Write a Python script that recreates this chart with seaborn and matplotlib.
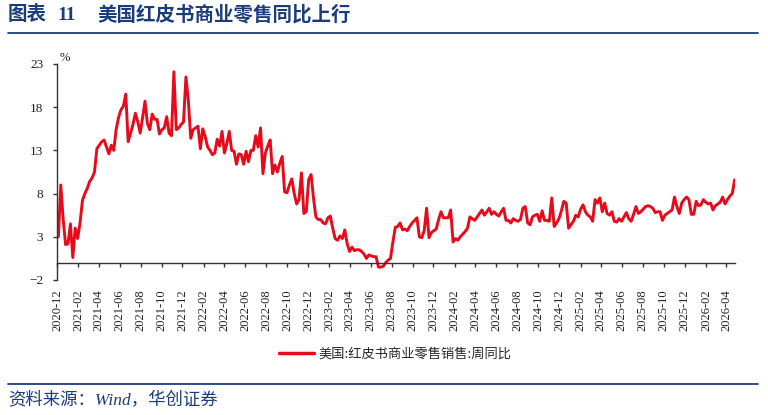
import pandas as pd
import matplotlib.pyplot as plt
import matplotlib.dates as mdates
from matplotlib.lines import Line2D
import seaborn as sns

# weekly YoY (%), last week ending 2026-04-25
values = [
    3.0, 9.0, 5.0, 2.1, 2.2, 4.5, 0.6, 4.0, 2.8, 4.6,
    7.2, 8.0, 8.6, 9.4, 9.8, 10.5, 13.2, 13.6, 14.0, 14.2,
    13.4, 12.6, 13.6, 13.0, 15.4, 16.8, 17.7, 18.1, 19.5, 14.0,
    15.0, 16.0, 17.3, 16.3, 15.0, 16.8, 18.7, 16.1, 15.4, 17.2,
    16.6, 16.6, 14.9, 15.4, 15.6, 16.9, 15.0, 14.7, 22.1, 15.4,
    15.6, 16.0, 16.3, 21.5, 18.8, 14.4, 15.4, 15.6, 15.8, 13.2,
    15.5, 14.6, 13.4, 13.0, 12.5, 12.7, 14.3, 13.5, 15.2, 12.7,
    13.8, 15.2, 13.0, 12.9, 11.4, 12.6, 12.5, 11.4, 12.9, 11.7,
    13.0, 13.0, 14.7, 13.4, 15.6, 10.3, 12.7, 13.5, 14.2, 10.3,
    11.3, 10.5, 11.5, 12.3, 8.2, 8.1, 9.0, 9.7, 8.0, 6.8,
    7.3, 10.4, 5.7, 5.9, 9.6, 10.2, 7.5, 5.3, 5.0, 5.0,
    4.6, 4.5, 5.2, 5.4, 4.0, 2.8, 2.6, 3.1, 2.8, 3.8,
    2.2, 1.3, 1.8, 1.4, 1.5, 1.5, 1.3, 1.0, 0.5, 0.9,
    0.8, 0.7, 0.7, -0.5, -0.5, -0.4, 0.0, 0.3, 0.5, 2.4,
    4.1, 4.2, 4.6, 3.8, 3.9, 3.7, 4.2, 4.6, 4.9, 5.2,
    3.0, 2.9, 3.7, 6.3, 2.9, 3.5, 3.7, 3.9, 5.0, 5.9,
    5.2, 5.2, 5.2, 6.1, 2.4, 2.8, 2.6, 3.0, 3.3, 3.6,
    4.0, 5.3, 5.1, 4.9, 5.3, 5.7, 6.1, 5.5, 5.9, 6.3,
    5.6, 5.9, 5.6, 5.4, 5.9, 6.3, 4.9, 4.9, 4.6, 5.1,
    4.9, 4.8, 5.0, 6.3, 6.5, 4.6, 4.4, 5.3, 5.5, 5.6,
    4.8, 6.0, 4.9, 4.9, 4.8, 7.5, 4.2, 4.6, 5.1, 6.0,
    7.1, 6.9, 4.0, 4.4, 4.8, 5.5, 5.3, 6.2, 6.7, 5.9,
    5.5, 5.3, 4.8, 7.3, 6.9, 7.5, 5.9, 6.9, 5.7, 5.5,
    5.9, 4.8, 4.7, 5.1, 4.8, 5.3, 5.8, 5.1, 4.8, 5.6,
    6.5, 5.7, 5.9, 6.2, 6.5, 6.6, 6.5, 6.3, 5.8, 5.9,
    5.9, 4.9, 5.5, 5.7, 5.9, 6.1, 7.6, 6.5, 5.7, 6.9,
    7.3, 7.6, 7.3, 5.6, 5.6, 7.1, 6.6, 6.7, 7.3, 7.0,
    6.8, 6.9, 6.1, 6.6, 6.8, 7.0, 7.6, 6.8, 7.3, 7.7,
    8.0, 9.6,
]
dates = pd.date_range(end="2026-04-25", periods=len(values), freq="7D")
yticks = [-2, 3, 8, 13, 18, 23]

title_no = "图表"
title_num = "11"
title_text = "美国红皮书商业零售同比上行"
series_name = "美国:红皮书商业零售销售:周同比"
source = "资料来源：Wind，华创证券"

navy = "#1B3C7C"
red = "#E60A1B"

sns.set_style("ticks")
plt.rcParams['font.family'] = ['Liberation Serif', 'Noto Sans CJK SC']

df = pd.DataFrame({"date": dates, "yoy": values})

fig = plt.figure(figsize=(7.68, 4.15), dpi=100)
ax = fig.add_axes([57/768, 1 - 280/415, 678/768, 216/415])

sns.lineplot(x="date", y="yoy", data=df, ax=ax, color=red, lw=2.1)
ax.set_xlabel("")
ax.set_ylabel("")

ax.set_ylim(-2, 23)
ax.set_yticks(yticks)
ax.set_xlim(pd.Timestamp("2020-12-01"), pd.Timestamp("2026-04-26"))
ax.xaxis.set_major_locator(mdates.MonthLocator(bymonth=[2, 4, 6, 8, 10, 12]))
ax.xaxis.set_major_formatter(mdates.DateFormatter("%Y-%m"))

for s in ["top", "right"]:
    ax.spines[s].set_visible(False)
ax.spines["bottom"].set_position(("data", 0))
ax.spines["bottom"].set_color("#333333")
ax.spines["left"].set_color("#333333")
ax.spines["bottom"].set_linewidth(1.0)
ax.spines["left"].set_linewidth(1.0)

ax.tick_params(axis="x", direction="out", length=3, width=1, color="#333333",
               pad=16, labelsize=9, rotation=90, labelcolor="#222222")
ax.tick_params(axis="y", direction="out", length=3, width=1, color="#333333",
               pad=7, labelsize=9.5, labelcolor="#222222")

ax.text(0.004, 1.0, "%", transform=ax.transAxes, fontsize=9, va="bottom",
        ha="left", color="#222222")

# header
fig.text(8/768, 1 - 15/415, title_no, fontsize=14, fontweight="bold", color=navy,
         va="center", ha="left", family=["Noto Sans CJK SC"])
fig.text(57/768, 1 - 15/415, title_num, fontsize=14, fontweight="bold", color=navy,
         va="center", ha="left", family=["Liberation Serif"])
fig.text(97/768, 1 - 15/415, title_text, fontsize=14, fontweight="bold", color=navy,
         va="center", ha="left", family=["Noto Sans CJK SC"])
fig.add_artist(Line2D([8/768, 758/768], [1 - 33/415, 1 - 33/415],
                      transform=fig.transFigure, color=navy, lw=1.3))

# legend
leg = fig.legend(handles=[Line2D([], [], color=red, lw=2.5)], labels=[series_name],
                 loc="center", bbox_to_anchor=(395/768, 1 - 354/415), frameon=False,
                 handlelength=2.7, handletextpad=0.3,
                 prop={"family": ["Noto Sans CJK SC"], "size": 9.5})

# footer
fig.add_artist(Line2D([8/768, 758/768], [1 - 384/415, 1 - 384/415],
                      transform=fig.transFigure, color=navy, lw=1.3))
fig.text(8/768, 1 - 401/415, source, fontsize=12.5, color=navy, style="italic",
         va="center", ha="left", family=["Liberation Serif", "Noto Sans CJK SC"])

fig.savefig("out.png", dpi=100)
